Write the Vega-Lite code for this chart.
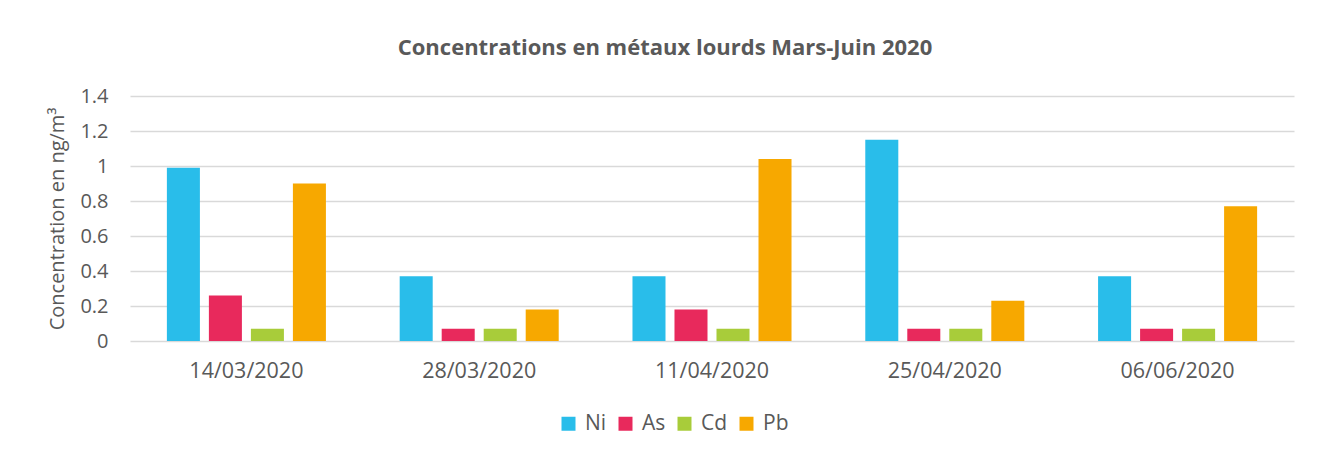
{
  "$schema": "https://vega.github.io/schema/vega-lite/v6.json",
  "width": 1164,
  "height": 245,
  "autosize": "none",
  "padding": {"left": 130, "top": 96, "right": 33, "bottom": 115},
  "background": "white",
  "title": {
    "text": "Concentrations en métaux lourds Mars-Juin 2020",
    "fontSize": 22,
    "fontWeight": "bold",
    "font": "Open Sans",
    "color": "#595959",
    "anchor": "middle",
    "dx": -47,
    "offset": 26
  },
  "data": {
    "values": [
      {"date": "14/03/2020", "metal": "Ni", "value": 0.99},
      {"date": "14/03/2020", "metal": "As", "value": 0.26},
      {"date": "14/03/2020", "metal": "Cd", "value": 0.07},
      {"date": "14/03/2020", "metal": "Pb", "value": 0.90},
      {"date": "28/03/2020", "metal": "Ni", "value": 0.37},
      {"date": "28/03/2020", "metal": "As", "value": 0.07},
      {"date": "28/03/2020", "metal": "Cd", "value": 0.07},
      {"date": "28/03/2020", "metal": "Pb", "value": 0.18},
      {"date": "11/04/2020", "metal": "Ni", "value": 0.37},
      {"date": "11/04/2020", "metal": "As", "value": 0.18},
      {"date": "11/04/2020", "metal": "Cd", "value": 0.07},
      {"date": "11/04/2020", "metal": "Pb", "value": 1.04},
      {"date": "25/04/2020", "metal": "Ni", "value": 1.15},
      {"date": "25/04/2020", "metal": "As", "value": 0.07},
      {"date": "25/04/2020", "metal": "Cd", "value": 0.07},
      {"date": "25/04/2020", "metal": "Pb", "value": 0.23},
      {"date": "06/06/2020", "metal": "Ni", "value": 0.37},
      {"date": "06/06/2020", "metal": "As", "value": 0.07},
      {"date": "06/06/2020", "metal": "Cd", "value": 0.07},
      {"date": "06/06/2020", "metal": "Pb", "value": 0.77}
    ]
  },
  "mark": {"type": "bar"},
  "encoding": {
    "x": {
      "field": "date",
      "type": "nominal",
      "sort": ["14/03/2020", "28/03/2020", "11/04/2020", "25/04/2020", "06/06/2020"],
      "scale": {"paddingInner": 0, "paddingOuter": 0},
      "axis": {
        "title": null,
        "labelAngle": 0,
        "domain": false,
        "ticks": false,
        "labelPadding": 19,
        "labelFontSize": 21.5,
        "labelFont": "Open Sans",
        "labelColor": "#595959"
      }
    },
    "xOffset": {
      "field": "metal",
      "sort": ["Ni", "As", "Cd", "Pb"],
      "scale": {"paddingInner": 0.214, "paddingOuter": 0.878}
    },
    "y": {
      "field": "value",
      "type": "quantitative",
      "scale": {"domain": [0, 1.4], "nice": false},
      "axis": {
        "title": "Concentration en ng/m³",
        "titleFont": "Open Sans",
        "titleFontSize": 20,
        "titleFontWeight": "normal",
        "titleColor": "#595959",
        "titlePadding": 12,
        "values": [0, 0.2, 0.4, 0.6, 0.8, 1, 1.2, 1.4],
        "format": "~g",
        "domain": false,
        "ticks": false,
        "labelPadding": 22,
        "labelFontSize": 20,
        "labelFont": "Open Sans",
        "labelColor": "#595959",
        "gridColor": "#d9d9d9",
        "gridWidth": 1.5
      }
    },
    "color": {
      "field": "metal",
      "type": "nominal",
      "sort": ["Ni", "As", "Cd", "Pb"],
      "scale": {
        "domain": ["Ni", "As", "Cd", "Pb"],
        "range": ["#29bdea", "#e8295c", "#a8cc3a", "#f7a800"]
      },
      "legend": {
        "title": null,
        "orient": "none",
        "direction": "horizontal",
        "legendX": 428,
        "legendY": 317,
        "symbolType": "square",
        "symbolSize": 196,
        "symbolStrokeWidth": 0,
        "symbolOpacity": 1,
        "labelFontSize": 21,
        "labelFont": "Open Sans",
        "labelColor": "#595959",
        "labelOffset": 6,
        "columnPadding": 8
      }
    }
  },
  "config": {
    "view": {"stroke": null}
  }
}
